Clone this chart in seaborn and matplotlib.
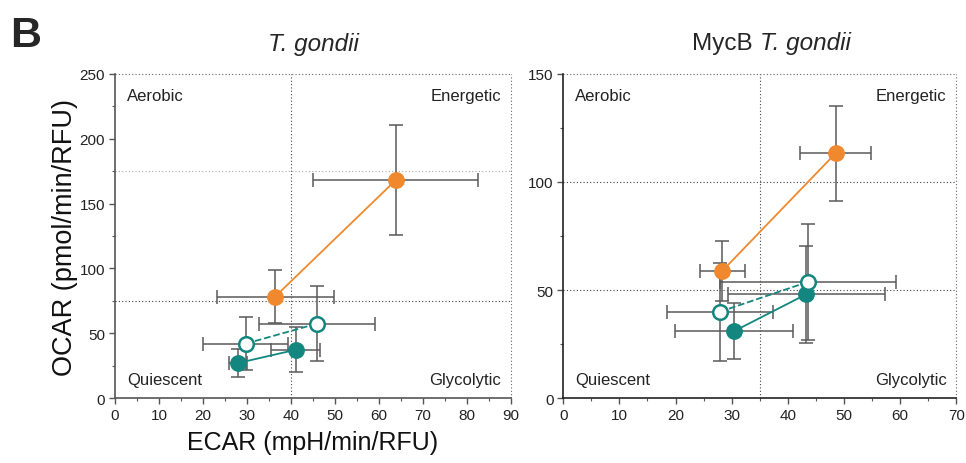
import matplotlib
matplotlib.use("Agg")
import matplotlib.pyplot as plt
import seaborn as sns
import numpy as np
import pandas as pd
from matplotlib.ticker import MultipleLocator

sns.set_theme(style="white")
plt.rcParams['font.family'] = ['Liberation Sans', 'DejaVu Sans']

# ---- data: T. gondii (left) ----
tg_groups = ["orange", "orange", "teal_open", "teal_open", "teal_fill", "teal_fill"]
tg_ecar = [36.4, 63.8, 29.7, 45.9, 28.0, 41.1]
tg_ecar_err = [13.3, 18.8, 9.6, 13.1, 2.0, 5.6]
tg_ocar = [78.3, 168.0, 42.1, 57.5, 27.2, 37.4]
tg_ocar_err = [20.3, 42.6, 20.5, 29.1, 10.7, 17.2]

# ---- data: MycB T. gondii (right) ----
myc_groups = ["orange", "orange", "teal_open", "teal_open", "teal_fill", "teal_fill"]
myc_ecar = [28.3, 48.5, 27.9, 43.6, 30.4, 43.3]
myc_ecar_err = [4.0, 6.3, 9.5, 15.7, 10.5, 14.0]
myc_ocar = [58.8, 113.2, 40.0, 53.8, 31.0, 48.1]
myc_ocar_err = [13.7, 22.1, 22.7, 26.8, 13.0, 22.5]

quadrant_labels = ["Aerobic", "Energetic", "Quiescent", "Glycolytic"]

ORANGE = "#F0892E"
TEAL = "#13877F"
ERR = "#5a5a5a"

fig = plt.figure(figsize=(9.66, 4.64), dpi=100)
axL = fig.add_axes([0.119, 0.1394, 0.410, 0.6996])
axR = fig.add_axes([0.5831, 0.1394, 0.4068, 0.6996])


def draw(ax, groups, ecar, ecar_err, ocar, ocar_err, xmax, ymax, vline, hlines, xmaj, ymaj):
    df = pd.DataFrame({"group": groups, "ECAR": ecar, "OCAR": ocar,
                       "xe": ecar_err, "ye": ocar_err})
    # reference lines
    ax.axvline(vline, color="#444444", ls=(0, (1, 2)), lw=0.8, zorder=1)
    for h, c in hlines:
        ax.axhline(h, color=c, ls=(0, (1, 2)), lw=0.8, zorder=1)
    ax.axhline(ymax, color="#666666", ls=(0, (1, 2)), lw=0.8, zorder=1, clip_on=False)
    ax.axvline(xmax, color="#666666", ls=(0, (1, 2)), lw=0.8, zorder=1, clip_on=False)
    # error bars
    ax.errorbar(df["ECAR"], df["OCAR"], xerr=df["xe"], yerr=df["ye"], fmt="none",
                ecolor=ERR, elinewidth=1.1, capsize=5, capthick=1.1, zorder=2)
    # connecting lines
    styles = {"orange": (ORANGE, "-"), "teal_fill": (TEAL, "-"), "teal_open": (TEAL, "--")}
    for g, (c, ls) in styles.items():
        sub = df[df["group"] == g]
        sns.lineplot(data=sub, x="ECAR", y="OCAR", ax=ax, color=c, lw=1.3,
                     linestyle=ls, sort=False, estimator=None, zorder=3)
    # markers
    sub = df[df["group"] == "orange"]
    sns.scatterplot(data=sub, x="ECAR", y="OCAR", ax=ax, s=125, color=ORANGE,
                    edgecolor=ORANGE, zorder=4)
    sub = df[df["group"] == "teal_fill"]
    sns.scatterplot(data=sub, x="ECAR", y="OCAR", ax=ax, s=125, color=TEAL,
                    edgecolor=TEAL, zorder=4)
    sub = df[df["group"] == "teal_open"]
    sns.scatterplot(data=sub, x="ECAR", y="OCAR", ax=ax, s=110, color="white",
                    edgecolor=TEAL, linewidth=1.8, zorder=4)

    ax.set_xlim(0, xmax)
    ax.set_ylim(0, ymax)
    ax.xaxis.set_major_locator(MultipleLocator(xmaj))
    ax.xaxis.set_minor_locator(MultipleLocator(xmaj / 2))
    ax.yaxis.set_major_locator(MultipleLocator(ymaj))
    ax.yaxis.set_minor_locator(MultipleLocator(ymaj / 2))
    ax.tick_params(axis="both", which="major", direction="out", length=4, width=1,
                   color="#555555", labelsize=11, labelcolor="#222222", pad=3,
                   bottom=True, left=True)
    ax.tick_params(axis="both", which="minor", direction="out", length=2.5, width=0.8,
                   color="#555555", bottom=True, left=True)
    for s in ["top", "right"]:
        ax.spines[s].set_visible(False)
    for s in ["left", "bottom"]:
        ax.spines[s].set_color("#555555")
        ax.spines[s].set_linewidth(1.2)
    ax.set_xlabel("")
    ax.set_ylabel("")

    kw = dict(transform=ax.transAxes, fontsize=12, color="#222222")
    ax.text(0.03, 0.955, quadrant_labels[0], ha="left", va="top", **kw)
    ax.text(0.975, 0.955, quadrant_labels[1], ha="right", va="top", **kw)
    ax.text(0.03, 0.035, quadrant_labels[2], ha="left", va="bottom", **kw)
    ax.text(0.975, 0.035, quadrant_labels[3], ha="right", va="bottom", **kw)


draw(axL, tg_groups, tg_ecar, tg_ecar_err, tg_ocar, tg_ocar_err, 90, 250, 40,
     [(75, "#444444"), (175, "#aaaaaa")], 10, 50)
draw(axR, myc_groups, myc_ecar, myc_ecar_err, myc_ocar, myc_ocar_err, 70, 150, 35,
     [(50, "#444444"), (100, "#444444")], 10, 50)
axR.spines["left"].set_color("#222222")
axR.spines["bottom"].set_color("#222222")

axL.set_xlabel("ECAR (mpH/min/RFU)", fontsize=18, color="#111111", labelpad=6)
axL.set_ylabel("OCAR (pmol/min/RFU)", fontsize=19.5, color="#111111", labelpad=1)

axL.set_title("T. gondii", fontsize=17.5, style="italic", pad=17)
axR.text(0.5, 1.06, "MycB ", transform=axR.transAxes, fontsize=17.5, ha="right",
         va="bottom")
axR.text(0.5, 1.06, "T. gondii", transform=axR.transAxes, fontsize=17.5, ha="left",
         va="bottom", style="italic")

fig.text(0.010, 0.965, "B", fontsize=31, fontweight="bold", ha="left", va="top")

fig.savefig("out.png", dpi=100)
